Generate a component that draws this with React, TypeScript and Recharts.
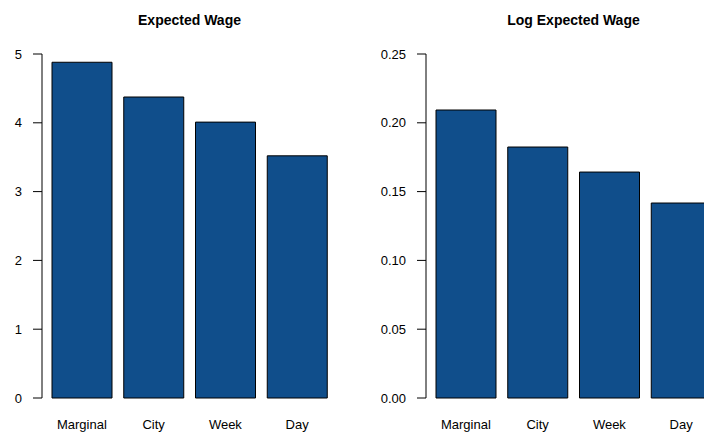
import React from "react";
import { BarChart, Bar, XAxis, YAxis } from "recharts";

const categories = ["Marginal", "City", "Week", "Day"];
const expectedWage = [4.88, 4.375, 4.01, 3.52];
const logExpectedWage = [0.2093, 0.1824, 0.1642, 0.1417];
const leftTicks = [0, 1, 2, 3, 4, 5];
const rightTicks = [0, 0.05, 0.1, 0.15, 0.2, 0.25];

const font = "'Liberation Sans', Arial, sans-serif";
const barFill = "#104E8B";

function Panel({
  values,
  ticks,
  title,
  left,
  fmt,
}: {
  values: number[];
  ticks: number[];
  title: string;
  left: number;
  fmt: (v: number) => string;
}) {
  const data = categories.map((c, i) => ({ name: c, value: values[i] }));
  // left edge of the div sits 60px before the panel's axis area so labels aren't clipped
  return (
    <div style={{ position: "absolute", left: left - 60, top: 0, width: 410, height: 437 }}>
      <div
        style={{
          position: "absolute",
          left: 106,
          width: 287,
          top: 12,
          textAlign: "center",
          fontFamily: font,
          fontWeight: "bold",
          fontSize: 14,
        }}
      >
        {title}
      </div>
      <BarChart
        width={410}
        height={437}
        data={data}
        margin={{ top: 54, bottom: 9, left: 0, right: 14 }}
        barCategoryGap={6}
      >
        <XAxis
          dataKey="name"
          height={30}
          axisLine={false}
          tickLine={false}
          padding={{ left: 4, right: 3 }}
          tick={{ fill: "#000", fontSize: 13, fontFamily: font, dy: 14 }}
        />
        <YAxis
          width={102}
          domain={[ticks[0], ticks[ticks.length - 1]]}
          ticks={ticks}
          interval={0}
          tickFormatter={fmt}
          axisLine={{ stroke: "#000" }}
          tickLine={{ stroke: "#000" }}
          tickSize={9}
          tickMargin={11}
          tick={{ fill: "#000", fontSize: 13, fontFamily: font }}
        />
        <Bar dataKey="value" fill={barFill} stroke="#000" strokeWidth={1} isAnimationActive={false} />
      </BarChart>
    </div>
  );
}

export default function App() {
  return (
    <div
      style={{
        position: "fixed",
        left: 0,
        top: 0,
        width: 704,
        height: 437,
        overflow: "hidden",
        background: "#fff",
      }}
    >
      <Panel values={expectedWage} ticks={leftTicks} title="Expected Wage" left={0} fmt={(v) => String(v)} />
      <Panel
        values={logExpectedWage}
        ticks={rightTicks}
        title="Log Expected Wage"
        left={384}
        fmt={(v) => v.toFixed(2)}
      />
    </div>
  );
}
